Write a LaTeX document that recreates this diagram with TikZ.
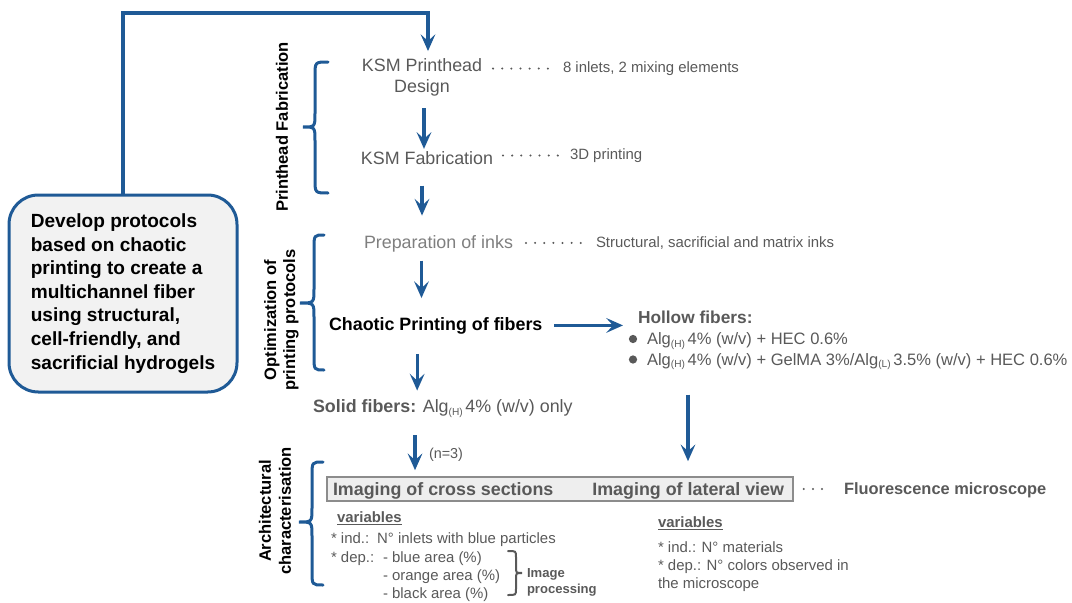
\documentclass[tikz,border=0pt]{standalone}
\usepackage{fontspec}
\setmainfont{Liberation Sans}
\usetikzlibrary{arrows.meta}
\definecolor{blu}{HTML}{1F5A96}
\definecolor{txt}{HTML}{595959}
\definecolor{ltxt}{HTML}{7F7F7F}
\definecolor{bxgray}{HTML}{8C8C8C}
\definecolor{bxfill}{HTML}{EEEEEE}
\definecolor{goalfill}{HTML}{F2F2F2}
\newcommand\FMain{\fontsize{13.4}{16}\selectfont}
\newcommand\FSmall{\fontsize{11.2}{13.5}\selectfont}
\newcommand\FBul{\fontsize{12.4}{15}\selectfont}
\newcommand\Sbx[1]{\raisebox{-0.3ex}{\fontsize{7.6}{8}\selectfont #1}\hspace{2pt}}
\begin{document}
\begin{tikzpicture}[x=0.75pt,y=-0.75pt,
  t/.style={inner sep=0pt, outer sep=0pt},
  arr/.style={draw=blu, line width=2.5pt, -{Stealth[length=12.5pt,width=11pt,inset=5pt]}},
  brc/.style={draw=blu, line width=2.25pt, line cap=round},
  sbrc/.style={draw=txt, line width=1.5pt, line cap=round},
  leader/.style={draw=txt, line width=1.7pt, line cap=round, dash pattern=on 0pt off 6.85pt},
  goalst/.style={draw=blu, fill=goalfill, line width=2.25pt, rounded corners=22pt,
     minimum width=171pt, minimum height=147.75pt, align=left, inner sep=0pt,
     font=\bfseries\fontsize{14.3}{17.7}\selectfont, text=black},
  imgbx/.style={draw=bxgray, fill=bxfill, line width=1.2pt, minimum width=349.5pt, minimum height=18pt, inner sep=0pt},
  rot/.style={inner sep=0pt, rotate=90, font=\bfseries\fontsize{12.4}{14.25}\selectfont, align=center, text=black},
  ]
\useasboundingbox (0,0) rectangle (1072,603);

% main goal box
\node[goalst] (goal) at (123,293.5) {Develop protocols\\based on chaotic\\printing to create a\\multichannel fiber\\using structural,\\cell-friendly, and\\sacrificial hydrogels};

% rotated labels
\node[rot] (lab1) at (282,127) {Printhead Fabrication};
\node[rot] (lab2) at (281.5,320) {Optimization of\\printing protocols};
\node[rot, font=\bfseries\fontsize{12.4}{15}\selectfont] (lab3) at (275,511) {Architectural\\characterisation};

% braces
\draw[brc] (328,62) .. controls (315,62) .. (315,76) -- (315,113) .. controls (315,127) .. (303,127) .. controls (315,127) .. (315,141) -- (315,179) .. controls (315,193) .. (328,193);
\draw[brc] (324,235) .. controls (314,235) .. (314,249) -- (314,289) .. controls (314,303) .. (300,303) .. controls (314,303) .. (314,317) -- (314,356) .. controls (314,370) .. (324,370);
\draw[brc] (323,462) .. controls (312,462) .. (312,476) -- (312,508) .. controls (312,522) .. (299,522) .. controls (312,522) .. (312,536) -- (312,571) .. controls (312,585) .. (323,585);

% flow nodes
\node[t, font=\FMain, text=txt, anchor=north, align=center] (ksm1) at (422,58.5) {KSM Printhead\\Design};
\node[t, font=\FMain, text=txt, anchor=base] (ksm2) at (427,164.5) {KSM Fabrication};
\node[t, font=\FMain, text=ltxt, anchor=base west] (prep) at (364,248) {Preparation of inks};
\node[t, font=\FMain\bfseries, text=black, anchor=base west] (chaotic) at (329,330) {Chaotic Printing of fibers};
\node[t, font=\FMain, text=txt, anchor=base west] (solid) at (313,412.5) {\textbf{Solid fibers:} Alg\Sbx{(H)}4\% (w/v) only};
\node[t, font=\bfseries\fontsize{13}{16}\selectfont, text=txt, anchor=base west] (hollow) at (638,323) {Hollow fibers:};
\node[t, font=\FBul, text=txt, anchor=base west] (b1) at (647,344.5) {Alg\Sbx{(H)}4\% (w/v) + HEC 0.6\%};
\node[t, font=\FBul, text=txt, anchor=base west] (b2) at (647,365) {Alg\Sbx{(H)}4\% (w/v) + GelMA 3\%/Alg\Sbx{(L)}3.5\% (w/v) + HEC 0.6\%};
\fill[txt] (633,339) circle[radius=3.1pt];
\fill[txt] (633,359.5) circle[radius=3.1pt];

% info nodes
\node[t, font=\FSmall, text=txt, anchor=base west] (info1) at (563,72.4) {8 inlets, 2 mixing elements};
\node[t, font=\FSmall, text=txt, anchor=base west] (info2) at (570,159.4) {3D printing};
\node[t, font=\FSmall, text=txt, anchor=base west] (info3) at (596,247.4) {Structural, sacrificial and matrix inks};

% imaging box
\node[imgbx] (imgbox) at (560,489) {};
\node[t, font=\FMain\bfseries, text=txt, anchor=base west] (cross) at (333,495.4) {Imaging of cross sections};
\node[t, font=\FMain\bfseries, text=txt, anchor=base east] (lateral) at (784,495.4) {Imaging of lateral view};
\node[t, font=\bfseries\fontsize{12.3}{14}\selectfont, text=txt, anchor=base west] (fluo) at (844,494) {Fluorescence microscope};

% variables left
\node[t, font=\FSmall\bfseries, text=txt, anchor=base west] (var1) at (337,522.5) {\underline{variables}};
\node[t, font=\FSmall, text=txt, anchor=base west] (ind1) at (331,543.4) {* ind.:\hspace{6pt}N° inlets with blue particles};
\node[t, font=\FSmall, text=txt, anchor=base west] (dep1) at (331,562.4) {* dep.:};
\node[t, font=\FSmall, text=txt, anchor=base west] (d1) at (383,562.4) {- blue area (\%)};
\node[t, font=\FSmall, text=txt, anchor=base west] (d2) at (383,580.4) {- orange area (\%)};
\node[t, font=\FSmall, text=txt, anchor=base west] (d3) at (383,598.4) {- black area (\%)};
\draw[sbrc] (508,551) .. controls (516,551) .. (516,557) -- (516,567) .. controls (516,573) .. (522,573) .. controls (516,573) .. (516,579) -- (516,589) .. controls (516,595) .. (508,595);
\node[t, font=\bfseries\fontsize{9.8}{12}\selectfont, text=txt, anchor=north west, align=left] (imgproc) at (527,568.3) {Image\\processing};

% variables right
\node[t, font=\FSmall\bfseries, text=txt, anchor=base west] (var2) at (658,527.4) {\underline{variables}};
\node[t, font=\fontsize{11.2}{13.5}\selectfont, text=txt, anchor=north west, align=left] (rvars) at (658,541.5) {* ind.: N° materials\\* dep.: N° colors observed in\\the microscope};

% (n=3)
\node[t, font=\fontsize{10.8}{13}\selectfont, text=txt, anchor=base west] (n3) at (429,458) {(n=3)};

% connectors
\draw[arr, shorten >=5.6pt] (goal.north) -- ++(0,-180.5) -| ([xshift=4.5pt]ksm1.north);
\draw[arr, shorten <=9pt, shorten >=2pt] ([xshift=1.5pt]ksm1.south) -- ([xshift=1.5pt]ksm1.south |- ksm2.north);
\draw[arr, shorten <=15.75pt, shorten >=14.6pt] ([xshift=-3.75pt]ksm2.south) -- ([xshift=-3.75pt]ksm2.south |- prep.north);
\draw[arr, shorten <=6.75pt, shorten >=14.25pt] ([xshift=-12.75pt]prep.south) -- ([xshift=-12.75pt]prep.south |- chaotic.north);
\draw[arr, shorten <=15pt, shorten >=6.75pt] ([xshift=-13.9pt]chaotic.south) -- ([xshift=-13.9pt]chaotic.south |- solid.north);
\draw[arr, shorten <=8.7pt, shorten >=11.25pt] (chaotic.east) -- (chaotic.east -| hollow.west);
\draw[arr, shorten <=13.5pt, shorten >=4.5pt] ([xshift=-20.85pt]solid.south) -- ([xshift=-20.85pt]solid.south |- imgbox.north);
\draw[arr, shorten <=18.75pt, shorten >=11.25pt] ([xshift=30.75pt]b2.south west) -- ([xshift=30.75pt]b2.south west |- imgbox.north);

% dotted leaders
\draw[leader, shorten <=8.25pt, shorten >=11.25pt] (ksm1.east |- info1.west) -- (info1.west);
\draw[leader, shorten <=7.5pt, shorten >=8.25pt] (ksm2.east |- info2.west) -- (info2.west);
\draw[leader, shorten <=9.75pt, shorten >=10.5pt] (prep.east |- info3.west) -- (info3.west);
\draw[leader, shorten <=7.5pt, shorten >=10.5pt] (imgbox.east) -- (imgbox.east -| fluo.west);
\end{tikzpicture}
\end{document}
